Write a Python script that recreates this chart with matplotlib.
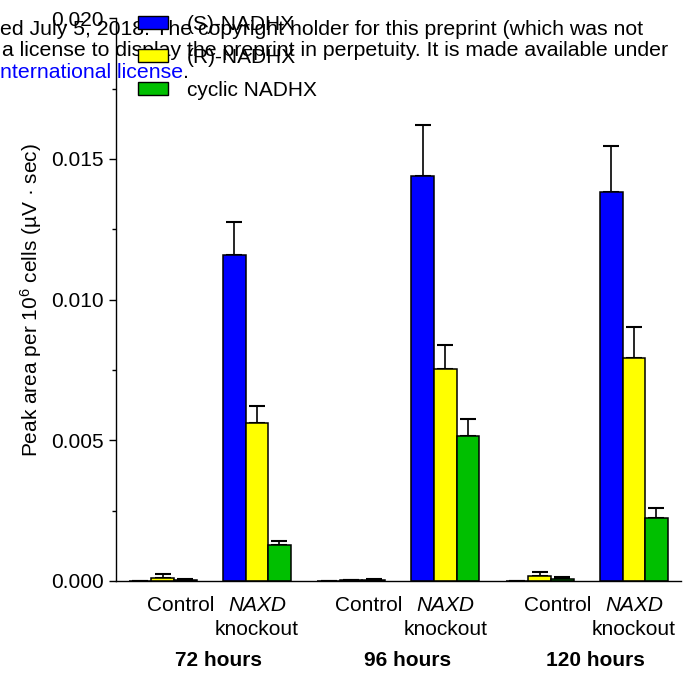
import matplotlib
matplotlib.use("Agg")
import matplotlib.pyplot as plt
import numpy as np
from matplotlib.patches import Patch

plt.rcParams['font.family'] = ['Liberation Sans', 'DejaVu Sans']
plt.rcParams['mathtext.fontset'] = 'custom'
plt.rcParams['mathtext.rm'] = 'Liberation Sans'
plt.rcParams['mathtext.it'] = 'Liberation Sans:italic'
plt.rcParams['mathtext.bf'] = 'Liberation Sans:bold'

# ---- data ----
time_points = ['72 hours', '96 hours', '120 hours']
conditions = ['Control', 'NAXD knockout']
series_names = ['(S)-NADHX', '(R)-NADHX', 'cyclic NADHX']
series_colors = ['#0000FF', '#FFFF00', '#00BF00']

# order: 72h Control, 72h KO, 96h Control, 96h KO, 120h Control, 120h KO
s_nadhx = [0.00001, 0.01157, 0.00001, 0.01440, 0.00001, 0.01381]
s_err = [0.0, 0.00120, 0.0, 0.00180, 0.0, 0.00166]
r_nadhx = [0.00010, 0.00563, 0.00003, 0.00753, 0.00019, 0.00794]
r_err = [0.00016, 0.00060, 0.00002, 0.00087, 0.00012, 0.00107]
c_nadhx = [0.00004, 0.00128, 0.00005, 0.00516, 0.00007, 0.00223]
c_err = [0.00002, 0.00015, 0.00002, 0.00060, 0.00007, 0.00037]

watermark_lines = [
    "ed July 5, 2018. The copyright holder for this preprint (which was not",
    "a license to display the preprint in perpetuity. It is made available under",
]
watermark_blue = "nternational license"

W, H = 693, 675
fig = plt.figure(figsize=(W / 100, H / 100), dpi=100)
ax = fig.add_axes([115.5 / W, 94 / H, (681 - 115.5) / W, (656.8 - 94) / H])

n = len(s_nadhx)
x = np.arange(n)
bw = 0.24
means = [s_nadhx, r_nadhx, c_nadhx]
errs = [s_err, r_err, c_err]
for i, (m, e, col) in enumerate(zip(means, errs, series_colors)):
    pos = x + (i - 1) * bw
    ax.bar(pos, m, width=bw, color=col, edgecolor='black', linewidth=1.1, zorder=2)
    ax.errorbar(pos, m, yerr=[np.zeros(n), e], fmt='none', ecolor='black',
                elinewidth=1.2, capsize=6, capthick=1.5, zorder=1)

ax.set_xlim(-0.5, 5.5)
ax.set_ylim(0, 0.020)
ax.set_yticks([0.000, 0.005, 0.010, 0.015, 0.020])
ax.set_yticklabels(['0.000', '0.005', '0.010', '0.015', '0.020'])
ax.set_yticks([0.0025, 0.0075, 0.0125, 0.0175], minor=True)
ax.tick_params(axis='y', which='major', length=5, width=1.0, labelsize=15, pad=3.5)
ax.tick_params(axis='y', which='minor', length=3, width=1.0)
ax.set_xticks([])
for sp in ['top', 'right']:
    ax.spines[sp].set_visible(False)
for sp in ['left', 'bottom']:
    ax.spines[sp].set_linewidth(1.0)

trans = ax.get_xaxis_transform()
axh = 656.8 - 94
def yax(py):
    return (581 - py) / axh

for g, tp in enumerate(time_points):
    xc = 2 * g
    xk = 2 * g + 1
    ax.text(xc + 0.19, yax(611), 'Control', transform=trans, ha='center',
            va='baseline', fontsize=15)
    ax.text(xk, yax(611), 'NAXD', transform=trans, ha='center',
            va='baseline', fontsize=15, style='italic')
    ax.text(xk, yax(635), 'knockout', transform=trans, ha='center',
            va='baseline', fontsize=15)
    ax.text((xc + 0.19 + xk) / 2, yax(666), tp, transform=trans, ha='center',
            va='baseline', fontsize=15, fontweight='bold')

fig.text(31 / W, 1 - 300 / H, 'Peak area per 10$^{6}$ cells (µV · sec)',
         rotation=90, ha='center', va='center', fontsize=15)

handles = [Patch(facecolor=c, edgecolor='black', linewidth=1.0) for c in series_colors]
fig.legend(handles, series_names, loc='upper left',
           bbox_to_anchor=(138 / W, 1 - 15 / H), frameon=False, fontsize=15,
           handlelength=1.45, handleheight=0.55, handletextpad=0.9,
           labelspacing=0.67, borderpad=0, borderaxespad=0)

wfs = 15.3
fig.text(0 / W, 1 - 35 / H, watermark_lines[0], ha='left', va='baseline', fontsize=wfs)
fig.text(2 / W, 1 - 56.5 / H, watermark_lines[1], ha='left', va='baseline', fontsize=wfs)
t3 = fig.text(0 / W, 1 - 77.5 / H, watermark_blue, ha='left', va='baseline',
              fontsize=wfs, color='#0000FF')
fig.canvas.draw()
bb = t3.get_window_extent()
fig.text(bb.x1 / W, 1 - 77.5 / H, '.', ha='left', va='baseline', fontsize=wfs)

fig.savefig('out.png', dpi=100)
